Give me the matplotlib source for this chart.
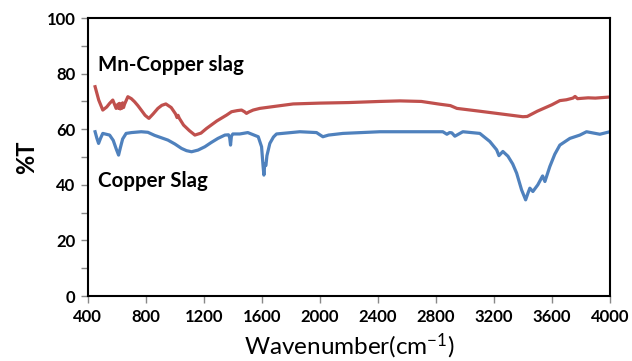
import matplotlib
matplotlib.use('Agg')
import matplotlib.pyplot as plt
from matplotlib.ticker import MultipleLocator

plt.rcParams['font.family'] = ['Lato', 'DejaVu Sans']
plt.rcParams['mathtext.default'] = 'regular'

# FTIR spectra, wavenumber (cm-1) vs transmittance (%)
wn_mn = [450, 475, 503, 530, 550, 572, 595, 607, 612, 618, 623, 628, 634, 640, 646, 653,
         676, 700, 722, 745, 768, 795, 821, 850, 883, 910, 938, 975, 1005, 1015, 1022,
         1030, 1060, 1100, 1138, 1180, 1219, 1290, 1357, 1391, 1430, 1460, 1480, 1494,
         1510, 1540, 1586, 1700, 1816, 2000, 2200, 2414, 2552, 2700, 2828, 2900, 2945,
         3100, 3250, 3400, 3430, 3500, 3600, 3655, 3700, 3745, 3760, 3777, 3800, 3850,
         3900, 3950, 4000]
t_mn = [75.3, 70.5, 66.9, 68.0, 69.3, 70.5, 67.5, 69.0, 67.5, 69.3, 67.3, 69.0, 67.5, 69.5,
        67.8, 69.0, 71.7, 71.0, 69.9, 68.5, 66.9, 65.0, 63.9, 65.5, 67.5, 68.6, 69.1, 67.8,
        65.5, 64.2, 65.0, 64.0, 61.5, 59.5, 57.9, 58.6, 60.3, 63.0, 65.1, 66.3, 66.7, 66.9,
        66.3, 65.7, 66.2, 66.9, 67.5, 68.3, 69.1, 69.4, 69.6, 70.0, 70.2, 70.0, 69.0, 68.5,
        67.5, 66.5, 65.5, 64.5, 64.6, 66.5, 68.8, 70.3, 70.6, 71.2, 71.8, 71.0, 71.1, 71.3,
        71.2, 71.4, 71.6]

wn_cu = [450, 462, 474, 488, 503, 550, 575, 595, 612, 625, 640, 664, 701, 768, 814, 860,
         952, 1000, 1046, 1080, 1115, 1160, 1207, 1250, 1297, 1345, 1370, 1378, 1384,
         1390, 1400, 1448, 1503, 1575, 1598, 1608, 1614, 1620, 1628, 1635, 1655, 1680,
         1701, 1862, 1977, 2000, 2021, 2060, 2159, 2414, 2759, 2848, 2876, 2895, 2910,
         2931, 2986, 3103, 3172, 3219, 3235, 3262, 3297, 3330, 3357, 3391, 3419, 3435,
         3448, 3469, 3503, 3536, 3552, 3586, 3620, 3655, 3724, 3793, 3839, 3890, 3931,
         4000]
t_cu = [59.1, 56.8, 54.9, 56.8, 58.5, 57.9, 56.0, 53.0, 50.7, 53.5, 56.5, 58.5, 58.8,
        59.1, 58.9, 57.8, 56.1, 54.7, 53.1, 52.3, 51.9, 52.5, 53.7, 55.2, 56.7, 57.9, 58.0,
        57.0, 54.3, 57.5, 58.3, 58.3, 58.8, 57.3, 53.7, 47.0, 43.5, 47.5, 47.0, 50.5, 54.9,
        57.2, 58.3, 59.1, 58.8, 58.0, 57.3, 57.9, 58.5, 59.1, 59.1, 59.1, 58.2, 58.8, 58.7,
        57.5, 59.1, 58.5, 55.6, 52.6, 50.5, 52.0, 50.3, 47.5, 44.2, 38.2, 34.6, 37.0, 38.8,
        37.6, 40.0, 43.2, 41.2, 46.6, 51.0, 54.3, 56.7, 57.9, 59.1, 58.6, 58.2, 59.1]

fig, ax = plt.subplots(figsize=(6.32, 3.61), dpi=100)
fig.subplots_adjust(left=0.139, right=0.965, bottom=0.18, top=0.95)

ax.plot(wn_mn, t_mn, color='#C0504D', lw=2.3, solid_joinstyle='round')
ax.plot(wn_cu, t_cu, color='#4F81BD', lw=2.3, solid_joinstyle='round')

ax.text(470, 83, 'Mn-Copper slag', fontsize=14.8, fontweight='bold', va='center')
ax.text(470, 41.5, 'Copper Slag', fontsize=14.8, fontweight='bold', va='center')

ax.set_xlim(400, 4000)
ax.set_ylim(0, 100)
ax.xaxis.set_major_locator(MultipleLocator(400))
ax.yaxis.set_major_locator(MultipleLocator(20))
ax.yaxis.set_minor_locator(MultipleLocator(10))
ax.tick_params(axis='both', which='both', direction='out', length=5, width=1,
               color='#888888', labelsize=12, pad=4)
for lbl in ax.get_xticklabels() + ax.get_yticklabels():
    lbl.set_fontweight('bold')

for sp in ax.spines.values():
    sp.set_linewidth(1.5)
    sp.set_color('black')

ax.set_xlabel('Wavenumber(cm$^{-1}$)', fontsize=17.5, labelpad=5)
ax.set_ylabel('%T', fontsize=17, fontweight='bold', labelpad=6)

fig.savefig('out.png', dpi=100)
